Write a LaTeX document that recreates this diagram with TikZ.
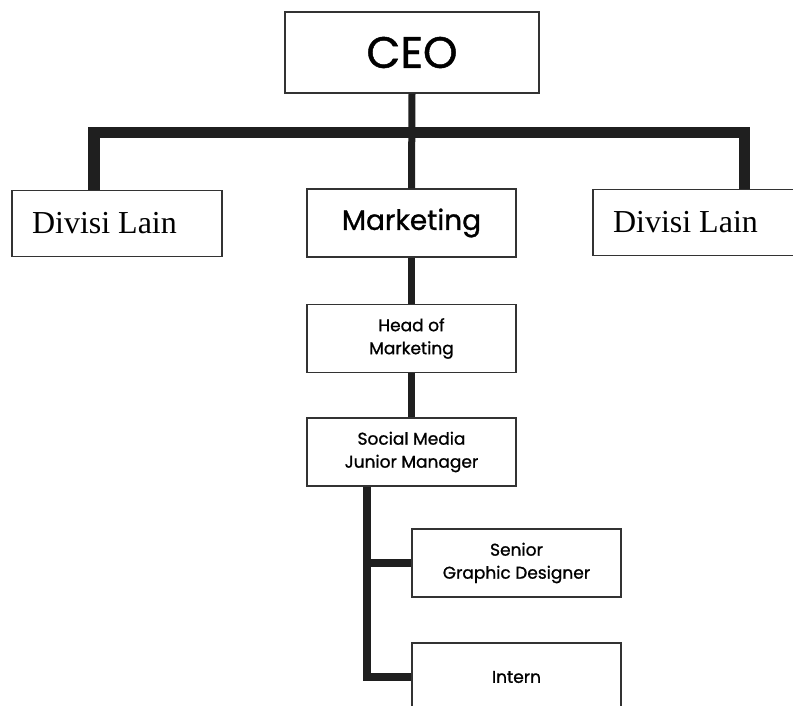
\documentclass[tikz,border=0pt]{standalone}
\usepackage{fontspec}
\setmainfont{Liberation Serif}
\newfontfamily\orgfont[FakeBold=1]{Poppins}
\begin{document}
\begin{tikzpicture}[x=1pt, y=-1pt,
    box/.style={draw=black!80, line width=1.2pt, fill=white, inner sep=0pt, align=center},
    unit/.style={box, minimum width=209pt, minimum height=68pt, font={\orgfont\fontsize{17}{23}\selectfont}},
    other/.style={box, text width=170pt, inner xsep=20pt, minimum height=66pt, align=left,
      font={\fontsize{32}{34}\selectfont}, execute at begin node={\spaceskip=0pt\relax}},
    link/.style={draw=black!88, line width=7pt},
    bus/.style={draw=black!88, line width=11.5pt, line join=miter}]
  \clip (0,0) rectangle (793,706);
  \fill[white] (0,0) rectangle (793,706);

  % top level
  \node[box, minimum width=254pt, minimum height=81pt, font={\orgfont\fontsize{44}{46}\selectfont}] (ceo) at (412,52.5) {CEO};

  % divisions
  \node[other] (divl) at (117,223.5) {Divisi Lain};
  \node[box, minimum width=209pt, minimum height=68pt, font={\orgfont\fontsize{28}{30}\selectfont}] (mkt) at (411.5,223) {Marketing};
  \node[other] (divr) at (698,222.5) {Divisi Lain};

  % marketing staff
  \node[unit] (head) at (411.5,338.5) {Head of\\Marketing};
  \node[unit] (smjm) at (411.5,452) {Social Media\\Junior Manager};
  \node[unit] (sgd) at (516.5,563) {Senior\\Graphic Designer};
  \node[unit] (intern) at (516.5,677) {Intern};

  \coordinate (legl) at (94,132.5);
  \coordinate (legr) at (744.5,132.5);
  \coordinate (trunk) at (367,0);

  \draw[bus] (legl |- divl.north) -- (legl) -- (legr) -- (legr |- divr.north);
  \draw[link] (ceo.south) -- (mkt.north);
  \draw[link] (mkt.south) -- (head.north);
  \draw[link] (head.south) -- (smjm.north);
  \draw[link, line width=8pt, line join=miter] (trunk |- smjm.south) |- (intern.west);
  \draw[link, line width=8pt] (trunk |- sgd.west) -- (sgd.west);
\end{tikzpicture}
\end{document}
